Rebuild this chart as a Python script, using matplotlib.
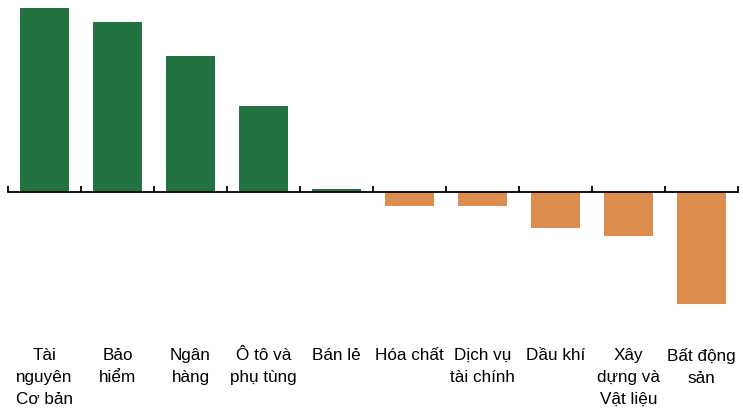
import matplotlib
matplotlib.use("Agg")
import matplotlib.pyplot as plt
import matplotlib.transforms as mtransforms

categories = ["Tài\nnguyên\nCơ bản", "Bảo\nhiểm", "Ngân\nhàng", "Ô tô và\nphụ tùng", "Bán lẻ",
              "Hóa chất", "Dịch vụ\ntài chính", "Dầu khí", "Xây\ndựng và\nVật liệu", "Bất động\nsản"]
values = [18.4, 17.0, 13.6, 8.6, 0.3, -1.4, -1.4, -3.6, -4.4, -11.2]

green = "#237241"
orange = "#DD8E4E"

plt.rcParams['font.family'] = ['Liberation Sans', 'DejaVu Sans']

W, H = 743, 409
fig = plt.figure(figsize=(W / 100, H / 100), dpi=100)
ax = fig.add_axes([8 / W, (H - 304) / H, 730 / W, (304 - 8) / H])

x = list(range(len(categories)))
colors = [green if v >= 0 else orange for v in values]
ax.bar(x, values, width=0.66, color=colors, zorder=2)

ax.set_xlim(-0.5, len(categories) - 0.5)
ax.set_ylim(min(values), max(values))

for s in ["left", "right", "top"]:
    ax.spines[s].set_visible(False)
ax.spines["bottom"].set_position(("data", 0))
ax.spines["bottom"].set_linewidth(1.3)
ax.spines["bottom"].set_color("black")
ax.spines["bottom"].set_zorder(3)
ax.set_yticks([])
ax.set_xticks([i - 0.5 for i in range(len(categories) + 1)])
ax.tick_params(axis="x", direction="in", length=4, width=1.3, labelbottom=False, color="black")

trans = mtransforms.blended_transform_factory(ax.transData, fig.transFigure)
for i, lab in enumerate(categories):
    ax.text(i, 1 - 348 / H, lab, transform=trans, ha="center", va="top",
            fontsize=12.3, linespacing=1.58, color="black", clip_on=False)

fig.savefig("out.png", dpi=100)
